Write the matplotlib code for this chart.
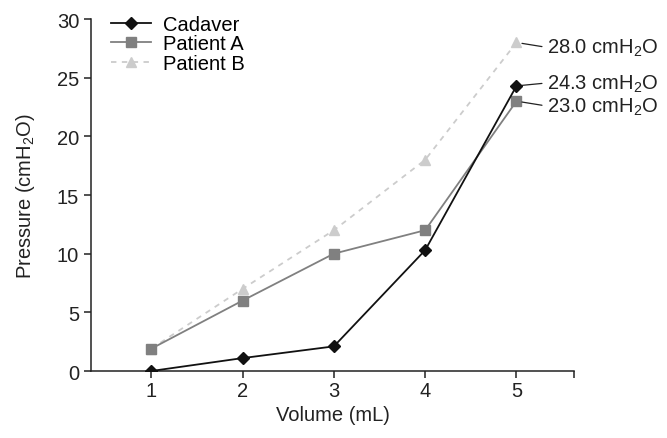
import matplotlib
matplotlib.use("Agg")
import matplotlib.pyplot as plt

volume = [1, 2, 3, 4, 5]
cadaver = [0.0, 1.1, 2.1, 10.3, 24.3]
patient_a = [1.9, 6.0, 10.0, 12.0, 23.0]
patient_b = [1.9, 7.0, 12.0, 18.0, 28.0]
end_labels = ["28.0 cmH$_2$O", "24.3 cmH$_2$O", "23.0 cmH$_2$O"]

plt.rcParams["font.family"] = ["Liberation Sans", "DejaVu Sans"]
plt.rcParams["mathtext.fontset"] = "custom"
plt.rcParams["mathtext.rm"] = "Liberation Sans"
plt.rcParams["mathtext.it"] = "Liberation Sans"

fs = 14.5
fig = plt.figure(figsize=(6.67, 4.39), dpi=100)
ax = fig.add_axes([0.1364, 0.1526, 0.7242, 0.8018])

ax.plot(volume, cadaver, color="#111111", lw=1.3, marker="D", ms=6.5,
        label="Cadaver", zorder=4)
ax.plot(volume, patient_a, color="#808080", lw=1.3, marker="s", ms=6.5,
        label="Patient A", zorder=3)
ax.plot(volume, patient_b, color="#cccccc", lw=1.3, ls=(0, (3, 3)), marker="^",
        ms=7.5, label="Patient B", zorder=2)

# end-point callouts
ends = [(patient_b[-1], (31, -5)), (cadaver[-1], (31, 3)), (patient_a[-1], (31, -5))]
for (yv, off), txt in zip(ends, end_labels):
    ax.annotate(txt, xy=(volume[-1], yv), xytext=off, textcoords="offset pixels",
                ha="left", va="center", fontsize=fs, color="#222222",
                arrowprops=dict(arrowstyle="-", color="#222222", lw=0.9,
                                shrinkA=2, shrinkB=4, relpos=(0, 0.5)))

ax.set_xlim(0.34, 5.63)
ax.set_ylim(0, 30)
ax.set_xticks(volume + [5.63])
ax.set_xticklabels([str(v) for v in volume] + [""])
ax.set_yticks(range(0, 31, 5))
ax.tick_params(direction="out", length=5, width=1.1, labelsize=fs,
               colors="#222222")
ax.tick_params(axis="x", pad=2)
for s in ["top", "right"]:
    ax.spines[s].set_visible(False)
for s in ["left", "bottom"]:
    ax.spines[s].set_linewidth(1.1)
    ax.spines[s].set_color("#222222")

ax.set_xlabel("Volume (mL)", fontsize=fs, color="#222222", labelpad=4)
ax.set_ylabel("Pressure (cmH$_2$O)", fontsize=fs, color="#222222", labelpad=14)

ax.legend(loc="upper left", bbox_to_anchor=(0.025, 1.035), frameon=False,
          fontsize=fs, handlelength=2.0, handletextpad=0.6, labelspacing=0.02,
          borderaxespad=0)

fig.savefig("out.png", dpi=100)
